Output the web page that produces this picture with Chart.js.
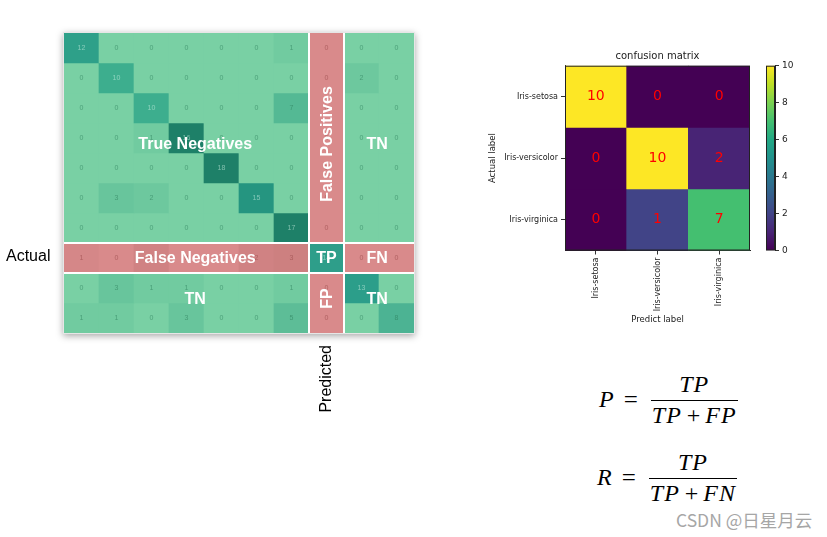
<!DOCTYPE html>
<html>
<head>
<meta charset="utf-8">
<script src="https://cdn.jsdelivr.net/npm/chart.js@4/dist/chart.umd.min.js"></script>
<style>
  html, body { margin: 0; padding: 0; background: #fff; }
  body { width: 827px; height: 537px; position: relative; overflow: hidden; }
  canvas { position: absolute; }
  .eqn { position: absolute; display: flex; align-items: center; font-family: "Liberation Serif", "DejaVu Serif", serif; font-size: 24px; color: #000; }
  .eqn i { letter-spacing: 1px; }
  .eqn .op { margin: 0 13px 0 9px; font-size: 25px; }
  .eqn .plus { margin: 0 5px; font-style: normal; }
  .frac { display: inline-flex; flex-direction: column; align-items: stretch; text-align: center; line-height: 1.12; }
  .frac .num { border-bottom: 1.3px solid #000; padding: 0 1px 2px 1px; }
  .frac .den { padding: 1px 1px 0 1px; }
  .mark { position: absolute; left: 676px; top: 507px; font-family: "Noto Sans CJK SC", "Noto Sans", sans-serif; font-size: 17.5px; color: #a6a6a6; }
</style>
</head>
<body>
<canvas id="bigMatrix" width="470" height="430" style="left:0;top:0"></canvas>
<canvas id="irisMatrix" width="300" height="300" style="left:460px;top:40px"></canvas>
<canvas id="irisColorbar" width="60" height="300" style="left:755px;top:40px"></canvas>

<div class="eqn" style="left:599px;top:371px">
  <i>P</i><span class="op">=</span>
  <span class="frac"><span class="num"><i>TP</i></span><span class="den"><i>TP</i><span class="plus">+</span><i>FP</i></span></span>
</div>
<div class="eqn" style="left:597px;top:449px">
  <i>R</i><span class="op">=</span>
  <span class="frac"><span class="num"><i>TP</i></span><span class="den"><i>TP</i><span class="plus">+</span><i>FN</i></span></span>
</div>
<div class="mark">CSDN @日星月云</div>

<script>
// ---- 10-class confusion matrix (rows = actual, cols = predicted) ----
const classLabels = ['0', '1', '2', '3', '4', '5', '6', '7', '8', '9'];
const cmRows = [
    [12, 0, 0, 0, 0, 0, 1, 0, 0, 0],
    [0, 10, 0, 0, 0, 0, 0, 0, 2, 0],
    [0, 0, 10, 0, 0, 0, 7, 0, 0, 0],
    [0, 0, 1, 16, 0, 0, 0, 0, 0, 0],
    [0, 0, 0, 0, 18, 0, 0, 0, 0, 0],
    [0, 3, 2, 0, 0, 15, 0, 0, 0, 0],
    [0, 0, 0, 0, 0, 0, 17, 0, 0, 0],
    [1, 0, 2, 0, 0, 2, 3, 14, 0, 0],
    [0, 3, 1, 1, 0, 0, 1, 0, 13, 0],
    [1, 1, 0, 3, 0, 0, 5, 0, 0, 8]
];
const focusClass = 7;

// ---- iris confusion matrix ----
const irisLabels = ['Iris-setosa', 'Iris-versicolor', 'Iris-virginica'];
const irisImage = [[10, 0, 0], [0, 10, 1], [0, 2, 7]];   // colours
const irisText = [[10, 0, 0], [0, 10, 2], [0, 1, 7]];    // printed numbers
const colorbarTicks = [0, 2, 4, 6, 8, 10];

////////////////////////////////////////////////////////////////////////////////

function lerpStops(stops, v) {
    if (v <= stops[0][0]) return stops[0][1];
    for (let i = 1; i < stops.length; i++) {
        if (v <= stops[i][0]) {
            const [a, ca] = stops[i - 1], [b, cb] = stops[i];
            const t = (v - a) / (b - a);
            return ca.map((c, k) => Math.round(c + (cb[k] - c) * t));
        }
    }
    return stops[stops.length - 1][1];
}
const rgb = c => `rgb(${c[0]},${c[1]},${c[2]})`;

const greenStops = [[0, [121, 208, 164]], [1, [113, 203, 160]], [3, [104, 197, 156]], [5, [93, 189, 151]],
    [7, [84, 185, 148]], [8, [76, 179, 147]], [10, [61, 174, 142]], [12, [46, 160, 137]], [13, [44, 158, 138]],
    [15, [37, 149, 128]], [16, [30, 128, 104]], [18, [30, 128, 104]]];
const redStops = [[0, [217, 138, 139]], [1, [213, 135, 136]], [2, [208, 130, 131]], [3, [205, 128, 128]]];

const viridisStops = [[0, [68, 1, 84]], [0.1, [72, 36, 117]], [0.2, [65, 68, 135]], [0.3, [53, 95, 141]],
    [0.4, [42, 120, 142]], [0.5, [33, 145, 140]], [0.6, [34, 168, 132]], [0.7, [68, 191, 112]],
    [0.8, [122, 209, 81]], [0.9, [189, 223, 38]], [1, [253, 231, 37]]];

function cellColor(r, c, v) {
    if (r === focusClass && c === focusClass) return 'rgb(46,158,138)';
    if (r === focusClass || c === focusClass) return rgb(lerpStops(redStops, v));
    return rgb(lerpStops(greenStops, v));
}

////////////////////////////////////////////////////////////////////////////////

const bigMatrixPlugin = {
    id: 'bigMatrixDecor',
    beforeDatasetsDraw(chart) {
        const {ctx, chartArea: a} = chart;
        ctx.save();
        ctx.shadowColor = 'rgba(0,0,0,0.35)';
        ctx.shadowBlur = 7;
        ctx.shadowOffsetY = 2;
        ctx.fillStyle = '#e6e6e6';
        ctx.fillRect(a.left - 1, a.top - 1, a.right - a.left + 2, a.bottom - a.top + 2);
        ctx.restore();
    },
    afterDatasetsDraw(chart) {
        const {ctx, chartArea: a, scales: {x, y}} = chart;
        ctx.save();

        // small numbers in each cell
        ctx.font = '7px "Liberation Sans", Arial, sans-serif';
        ctx.textAlign = 'center';
        ctx.textBaseline = 'middle';
        chart.data.datasets.forEach((ds, r) => {
            chart.getDatasetMeta(r).data.forEach((bar, c) => {
                const v = cmRows[r][c];
                const red = (r === focusClass || c === focusClass) && !(r === focusClass && c === focusClass);
                ctx.fillStyle = red ? 'rgba(150,70,70,0.6)' : (v >= 10 ? 'rgba(205,240,228,0.55)' : 'rgba(40,120,85,0.55)');
                ctx.fillText(String(v), bar.x, (bar.y + bar.base) / 2);
            });
        });

        // white separators around the highlighted class
        ctx.strokeStyle = '#fff';
        ctx.lineWidth = 2;
        [focusClass - 0.5, focusClass + 0.5].forEach(v => {
            const px = x.getPixelForValue(v);
            ctx.beginPath(); ctx.moveTo(px, a.top); ctx.lineTo(px, a.bottom); ctx.stroke();
            const py = y.getPixelForValue(v + 0.5);
            ctx.beginPath(); ctx.moveTo(a.left, py); ctx.lineTo(a.right, py); ctx.stroke();
        });

        // region labels
        const labels = [
            ['True Negatives', 3.25, 3.2, false], ['False Positives', 7, 3.2, true], ['TN', 8.45, 3.2, false],
            ['False Negatives', 3.25, 7, false], ['TP', 7, 7, false], ['FN', 8.45, 7, false],
            ['TN', 3.25, 8.35, false], ['FP', 7, 8.35, true], ['TN', 8.45, 8.35, false]
        ];
        ctx.fillStyle = '#fff';
        ctx.font = 'bold 16px "Liberation Sans", Arial, sans-serif';
        labels.forEach(([t, cx, cy, rot]) => {
            const px = x.getPixelForValue(cx), py = y.getPixelForValue(cy + 0.5);
            ctx.save();
            ctx.translate(px, py);
            if (rot) ctx.rotate(-Math.PI / 2);
            ctx.fillText(t, 0, 1);
            ctx.restore();
        });

        // "Actual" / "Predicted"
        ctx.fillStyle = '#000';
        ctx.font = '16px "Liberation Sans", Arial, sans-serif';
        ctx.textAlign = 'left';
        ctx.fillText('Actual', 6, y.getPixelForValue(focusClass + 0.5) - 1);
        ctx.save();
        ctx.translate(x.getPixelForValue(focusClass), a.bottom + 12);
        ctx.rotate(-Math.PI / 2);
        ctx.textAlign = 'right';
        ctx.fillText('Predicted', 0, 0);
        ctx.restore();
        ctx.restore();
    }
};

new Chart(document.getElementById('bigMatrix'), {
    type: 'bar',
    data: {
        labels: classLabels,
        datasets: cmRows.map((row, r) => ({
            label: classLabels[r],
            data: row.map(() => 1),
            backgroundColor: row.map((v, c) => cellColor(r, c, v)),
            borderWidth: 0,
            barPercentage: 1,
            categoryPercentage: 1
        }))
    },
    options: {
        responsive: false,
        animation: false,
        layout: {padding: {left: 64, top: 33, right: 56, bottom: 97}},
        plugins: {legend: {display: false}, tooltip: {enabled: false}},
        scales: {
            x: {display: false, stacked: true},
            y: {display: false, stacked: true, reverse: true, min: 0, max: 10}
        }
    },
    plugins: [bigMatrixPlugin]
});

////////////////////////////////////////////////////////////////////////////////

const mplFont = '"DejaVu Sans", sans-serif';

const irisPlugin = {
    id: 'irisDecor',
    afterDatasetsDraw(chart) {
        const {ctx, chartArea: a} = chart;
        ctx.save();
        ctx.font = '14px ' + mplFont;
        ctx.fillStyle = '#ff0000';
        ctx.textAlign = 'center';
        ctx.textBaseline = 'middle';
        chart.data.datasets.forEach((ds, r) => {
            chart.getDatasetMeta(r).data.forEach((bar, c) => {
                ctx.fillText(String(irisText[r][c]), bar.x, (bar.y + bar.base) / 2);
            });
        });
        ctx.strokeStyle = '#222';
        ctx.lineWidth = 1;
        ctx.strokeRect(a.left + 0.5, a.top + 0.5, a.right - a.left - 1, a.bottom - a.top - 1);
        ctx.restore();
    }
};

new Chart(document.getElementById('irisMatrix'), {
    type: 'bar',
    data: {
        labels: irisLabels,
        datasets: irisImage.map((row, r) => ({
            label: irisLabels[r],
            data: row.map(() => 1),
            backgroundColor: row.map(v => rgb(lerpStops(viridisStops, v / 10))),
            borderWidth: 0,
            barPercentage: 1,
            categoryPercentage: 1
        }))
    },
    options: {
        responsive: false,
        animation: false,
        layout: {padding: {left: 0, top: 0, right: 10, bottom: 0}},
        plugins: {
            legend: {display: false},
            tooltip: {enabled: false},
            title: {
                display: true, text: 'confusion matrix', fullSize: false, color: '#222',
                font: {size: 10, family: mplFont, weight: 'normal'}, padding: {top: 10, bottom: 3.7}
            }
        },
        scales: {
            x: {
                stacked: true,
                grid: {offset: false, drawOnChartArea: false, tickLength: 4, color: '#333'},
                border: {color: '#222'},
                ticks: {minRotation: 90, maxRotation: 90, padding: 3, color: '#222', font: {size: 8, family: mplFont}},
                title: {display: true, text: 'Predict label', color: '#222', font: {size: 8.5, family: mplFont}, padding: {top: 0, bottom: 15}},
                afterFit: s => { s.height = 89.5; }
            },
            y: {
                stacked: true, reverse: true, min: 0, max: 3,
                afterBuildTicks: s => { s.ticks = irisLabels.map((_, i) => ({value: i + 0.5})); },
                grid: {drawOnChartArea: false, tickLength: 4, color: '#333'},
                border: {color: '#222'},
                ticks: {padding: 3, color: '#222', font: {size: 8, family: mplFont}, callback: v => irisLabels[Math.floor(v)]},
                title: {display: true, text: 'Actual label', color: '#222', font: {size: 8.5, family: mplFont}, padding: {top: 28, bottom: 0}},
                afterFit: s => { s.width = 105; }
            }
        }
    },
    plugins: [irisPlugin]
});

////////////////////////////////////////////////////////////////////////////////

new Chart(document.getElementById('irisColorbar'), {
    type: 'bar',
    data: {
        labels: [''],
        datasets: [{
            data: [[colorbarTicks[0], colorbarTicks[colorbarTicks.length - 1]]],
            backgroundColor: (context) => {
                const {chart} = context;
                const area = chart.chartArea;
                if (!area) return '#21918c';
                const g = chart.ctx.createLinearGradient(0, area.bottom, 0, area.top);
                viridisStops.forEach(([t, c]) => g.addColorStop(t, rgb(c)));
                return g;
            },
            borderWidth: 0,
            barPercentage: 1,
            categoryPercentage: 1
        }]
    },
    options: {
        responsive: false,
        animation: false,
        layout: {padding: {left: 11, top: 25.7, right: 0, bottom: 89.5}},
        plugins: {legend: {display: false}, tooltip: {enabled: false}},
        scales: {
            x: {display: false},
            y: {
                position: 'right', min: 0, max: 10,
                afterBuildTicks: s => { s.ticks = colorbarTicks.map(v => ({value: v})); },
                grid: {drawOnChartArea: false, tickLength: 4, color: '#333'},
                border: {color: '#222'},
                ticks: {padding: 3, color: '#222', font: {size: 9, family: mplFont}},
                afterFit: s => { s.width = 40; }
            }
        }
    },
    plugins: [{
        id: 'cbFrame',
        afterDatasetsDraw(chart) {
            const {ctx, chartArea: a} = chart;
            ctx.save();
            ctx.strokeStyle = '#222';
            ctx.lineWidth = 1;
            ctx.strokeRect(a.left + 0.5, a.top + 0.5, a.right - a.left - 1, a.bottom - a.top - 1);
            ctx.restore();
        }
    }]
});
</script>
</body>
</html>
